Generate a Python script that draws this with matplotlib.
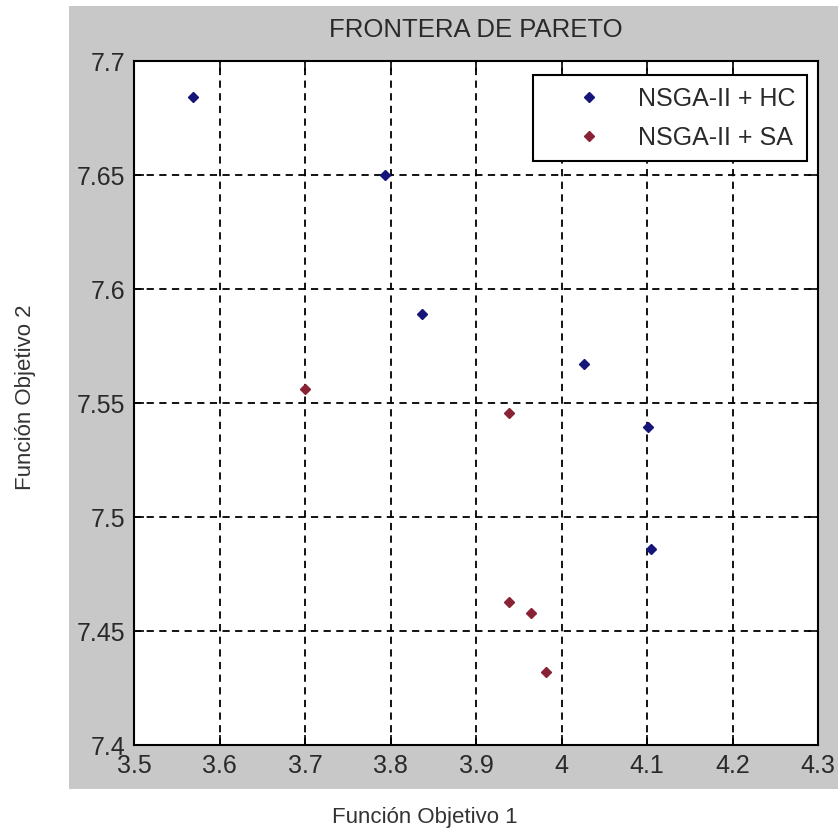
import matplotlib
matplotlib.use("Agg")
import matplotlib.pyplot as plt
from matplotlib.patches import Rectangle

# Pareto front points
hc_f1 = [3.569, 3.794, 3.837, 4.026, 4.101, 4.105]
hc_f2 = [7.684, 7.650, 7.589, 7.567, 7.5395, 7.486]
sa_f1 = [3.700, 3.939, 3.939, 3.964, 3.982]
sa_f2 = [7.556, 7.5455, 7.4627, 7.458, 7.432]

x_ticks = [3.5, 3.6, 3.7, 3.8, 3.9, 4.0, 4.1, 4.2, 4.3]
x_labels = ["3.5", "3.6", "3.7", "3.8", "3.9", "4", "4.1", "4.2", "4.3"]
y_ticks = [7.4, 7.45, 7.5, 7.55, 7.6, 7.65, 7.7]
y_labels = ["7.4", "7.45", "7.5", "7.55", "7.6", "7.65", "7.7"]

plt.rcParams["font.family"] = ["Liberation Sans", "DejaVu Sans"]

W, H = 838, 837
fig = plt.figure(figsize=(W / 100, H / 100), dpi=100, facecolor="white")
# grey MATLAB-style panel behind the axes
fig.patches.append(Rectangle((69 / W, 1 - 790 / H), 1 - 69 / W, (790 - 7) / H,
                             transform=fig.transFigure, facecolor="#c8c8c8",
                             edgecolor="none", zorder=-10))

ax = fig.add_axes([134 / W, 1 - 746 / H, (818 - 134) / W, (746 - 62) / H])
ax.set_zorder(1)
ax.set_facecolor("white")

ax.plot(hc_f1, hc_f2, linestyle="none", marker="D", ms=5.2,
        color="#16167a", label="NSGA-II + HC", zorder=3)
ax.plot(sa_f1, sa_f2, linestyle="none", marker="D", ms=5.2,
        color="#8a2236", label="NSGA-II + SA", zorder=3)

ax.set_xlim(3.5, 4.3)
ax.set_ylim(7.4, 7.7)
ax.set_xticks(x_ticks)
ax.set_xticklabels(x_labels)
ax.set_yticks(y_ticks)
ax.set_yticklabels(y_labels)
ax.tick_params(direction="in", length=7, width=1.2, top=True, right=True,
               labelsize=18, labelcolor="#2a2a2a", pad=6)
ax.grid(True, color="black", linestyle=(0, (4, 3)), linewidth=1.3)
for s in ax.spines.values():
    s.set_linewidth(1.5)
    s.set_color("black")

fig.text(476 / W, 1 - 30 / H, "FRONTERA DE PARETO", ha="center", va="center",
         fontsize=18.5, color="#2a2a2a")
fig.text(425 / W, 19 / H, "Función Objetivo 1", ha="center", va="center",
         fontsize=16, color="#333333")
fig.text(25 / W, 1 - 397 / H, "Función Objetivo 2", ha="center", va="center",
         rotation=90, fontsize=16, color="#333333")

leg = ax.legend(loc="upper right", bbox_to_anchor=(0.984, 0.9795),
                borderaxespad=0, fancybox=False, edgecolor="black",
                framealpha=1, fontsize=18, handlelength=3.58,
                handletextpad=0.17, borderpad=0.45, labelspacing=0.6)
leg.get_frame().set_linewidth(1.5)
for t in leg.get_texts():
    t.set_color("#2a2a2a")

fig.savefig("out.png", dpi=100, facecolor="white")
